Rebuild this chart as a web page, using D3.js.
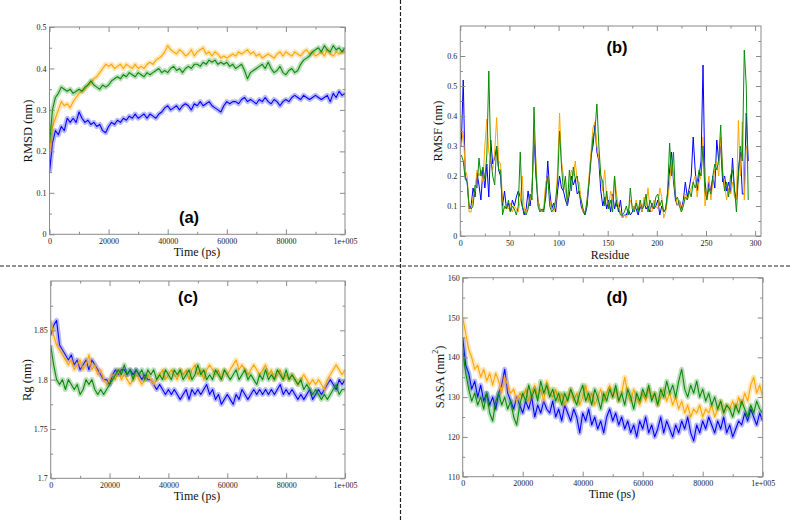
<!DOCTYPE html>
<html><head><meta charset="utf-8">
<script src="https://cdn.jsdelivr.net/npm/d3@7"></script>
<style>body{margin:0;background:#fff}svg{display:block}</style>
</head><body>
<svg id="c" width="792" height="522"></svg>
<script>
// ---------------- DATA ----------------
const time = d3.range(0, 100001, 1000);          // ps, 101 frames
const residues = d3.range(1, 294, 2);            // residue index
const seriesNames = ["blue", "orange", "green"];
const timeTickValues = [0, 20000, 40000, 60000, 80000, 100000];
const timeTickLabels = ["0", "20000", "40000", "60000", "80000", "1e+005"];

const rmsdBlue = [0.15,0.22,0.25,0.24,0.26,0.25,0.28,0.27,0.28,0.27,
 0.295,0.28,0.27,0.275,0.265,0.27,0.26,0.265,0.25,0.245,
 0.26,0.27,0.265,0.275,0.27,0.28,0.275,0.285,0.28,0.29,
 0.28,0.285,0.29,0.28,0.29,0.285,0.28,0.29,0.295,0.305,
 0.31,0.30,0.305,0.31,0.30,0.31,0.315,0.31,0.30,0.315,
 0.31,0.32,0.31,0.315,0.32,0.31,0.305,0.30,0.295,0.31,
 0.32,0.315,0.32,0.32,0.315,0.325,0.33,0.32,0.325,0.32,
 0.315,0.325,0.32,0.33,0.32,0.315,0.325,0.32,0.31,0.32,
 0.325,0.32,0.33,0.335,0.33,0.325,0.335,0.33,0.325,0.33,
 0.335,0.33,0.325,0.33,0.335,0.32,0.34,0.33,0.345,0.335,0.34];
const rmsdOrange = [0.20,0.26,0.28,0.30,0.32,0.31,0.315,0.305,0.32,0.33,
 0.34,0.345,0.35,0.36,0.365,0.375,0.38,0.39,0.40,0.41,
 0.405,0.41,0.40,0.405,0.41,0.40,0.41,0.405,0.40,0.41,
 0.40,0.405,0.40,0.41,0.415,0.41,0.42,0.425,0.43,0.44,
 0.455,0.445,0.44,0.435,0.445,0.44,0.43,0.435,0.445,0.43,
 0.44,0.445,0.45,0.435,0.44,0.43,0.44,0.435,0.425,0.43,
 0.425,0.43,0.435,0.43,0.44,0.435,0.44,0.445,0.435,0.44,
 0.43,0.435,0.425,0.43,0.435,0.43,0.425,0.435,0.44,0.43,
 0.44,0.435,0.43,0.44,0.435,0.43,0.44,0.445,0.435,0.44,
 0.43,0.435,0.44,0.43,0.445,0.435,0.43,0.44,0.435,0.44,0.44];
const rmsdGreen = [0.22,0.30,0.33,0.34,0.355,0.35,0.345,0.35,0.34,0.345,
 0.35,0.345,0.355,0.36,0.37,0.36,0.355,0.35,0.36,0.355,
 0.36,0.37,0.375,0.38,0.375,0.385,0.38,0.39,0.385,0.38,
 0.39,0.385,0.38,0.39,0.385,0.39,0.395,0.40,0.39,0.395,
 0.39,0.40,0.405,0.395,0.40,0.39,0.40,0.405,0.40,0.41,
 0.41,0.405,0.415,0.41,0.42,0.415,0.42,0.41,0.415,0.41,
 0.415,0.405,0.41,0.40,0.405,0.41,0.395,0.375,0.39,0.395,
 0.40,0.405,0.41,0.40,0.415,0.40,0.39,0.395,0.405,0.39,
 0.385,0.395,0.40,0.39,0.395,0.41,0.42,0.425,0.43,0.44,
 0.445,0.45,0.44,0.455,0.445,0.44,0.455,0.445,0.45,0.44,0.45];

const rmsfBlue = [0.30,0.52,0.20,0.18,0.09,0.10,0.16,0.13,0.21,0.17,
 0.12,0.22,0.16,0.24,0.13,0.32,0.24,0.26,0.30,0.22,
 0.20,0.10,0.15,0.09,0.11,0.08,0.12,0.10,0.13,0.15,
 0.13,0.10,0.07,0.09,0.15,0.10,0.16,0.33,0.20,0.12,
 0.09,0.08,0.09,0.13,0.25,0.15,0.09,0.11,0.08,0.15,
 0.20,0.16,0.15,0.12,0.10,0.14,0.20,0.17,0.19,0.14,
 0.15,0.10,0.08,0.07,0.10,0.18,0.27,0.30,0.37,0.28,
 0.25,0.15,0.10,0.13,0.09,0.12,0.08,0.14,0.09,0.12,
 0.08,0.12,0.06,0.07,0.07,0.09,0.07,0.08,0.10,0.09,
 0.07,0.10,0.08,0.12,0.09,0.10,0.08,0.11,0.09,0.10,
 0.12,0.07,0.10,0.08,0.09,0.14,0.22,0.28,0.18,0.12,
 0.10,0.12,0.09,0.12,0.18,0.13,0.16,0.20,0.33,0.22,
 0.15,0.20,0.25,0.57,0.18,0.13,0.18,0.15,0.20,0.16,
 0.32,0.25,0.30,0.18,0.20,0.15,0.18,0.14,0.26,0.15,
 0.12,0.22,0.28,0.14,0.14,0.41,0.25];
const rmsfOrange = [0.30,0.35,0.22,0.20,0.08,0.08,0.13,0.15,0.22,0.20,
 0.22,0.18,0.30,0.39,0.28,0.25,0.22,0.28,0.395,0.25,
 0.24,0.12,0.09,0.10,0.09,0.11,0.08,0.10,0.09,0.08,
 0.12,0.20,0.09,0.08,0.10,0.12,0.15,0.35,0.25,0.12,
 0.09,0.08,0.10,0.18,0.20,0.12,0.09,0.08,0.10,0.22,
 0.41,0.25,0.20,0.15,0.12,0.16,0.22,0.20,0.25,0.18,
 0.18,0.12,0.08,0.08,0.12,0.20,0.28,0.36,0.38,0.30,
 0.26,0.20,0.15,0.22,0.12,0.10,0.15,0.12,0.20,0.14,
 0.10,0.08,0.06,0.07,0.06,0.08,0.12,0.10,0.09,0.12,
 0.09,0.11,0.08,0.13,0.10,0.16,0.09,0.08,0.12,0.10,
 0.09,0.16,0.13,0.06,0.08,0.12,0.18,0.25,0.20,0.14,
 0.10,0.12,0.08,0.11,0.14,0.12,0.14,0.16,0.18,0.20,
 0.13,0.18,0.20,0.33,0.10,0.15,0.20,0.12,0.18,0.22,
 0.25,0.20,0.33,0.22,0.17,0.12,0.16,0.14,0.18,0.13,
 0.12,0.385,0.20,0.38,0.12,0.30,0.28];
const rmsfGreen = [0.27,0.25,0.19,0.18,0.10,0.09,0.10,0.17,0.16,0.26,
 0.20,0.23,0.19,0.27,0.55,0.26,0.20,0.17,0.30,0.22,
 0.22,0.07,0.10,0.09,0.12,0.08,0.10,0.09,0.07,0.10,
 0.28,0.10,0.08,0.07,0.09,0.14,0.12,0.43,0.22,0.10,
 0.08,0.09,0.08,0.15,0.20,0.10,0.08,0.09,0.12,0.18,
 0.35,0.23,0.15,0.20,0.10,0.22,0.15,0.23,0.19,0.20,
 0.14,0.12,0.09,0.07,0.12,0.18,0.25,0.33,0.35,0.44,
 0.30,0.20,0.18,0.10,0.15,0.09,0.12,0.08,0.20,0.10,
 0.09,0.07,0.07,0.08,0.10,0.07,0.16,0.09,0.08,0.11,
 0.08,0.12,0.09,0.10,0.14,0.08,0.12,0.10,0.09,0.13,
 0.14,0.10,0.12,0.08,0.09,0.15,0.31,0.20,0.28,0.12,
 0.13,0.10,0.08,0.10,0.13,0.12,0.15,0.13,0.18,0.16,
 0.18,0.22,0.20,0.30,0.15,0.12,0.16,0.14,0.20,0.24,
 0.22,0.25,0.37,0.20,0.15,0.18,0.13,0.20,0.22,0.16,
 0.08,0.20,0.30,0.25,0.62,0.50,0.12];

const rgBlue = [1.845,1.855,1.86,1.835,1.83,1.825,1.82,1.825,1.815,1.82,
 1.81,1.815,1.82,1.81,1.82,1.815,1.81,1.805,1.80,1.80,
 1.795,1.805,1.81,1.805,1.81,1.81,1.805,1.81,1.805,1.81,
 1.805,1.80,1.805,1.80,1.80,1.795,1.79,1.795,1.79,1.785,
 1.79,1.785,1.79,1.785,1.78,1.785,1.79,1.78,1.79,1.785,
 1.79,1.785,1.79,1.795,1.785,1.79,1.78,1.785,1.775,1.78,
 1.785,1.78,1.775,1.785,1.78,1.79,1.785,1.78,1.785,1.79,
 1.785,1.79,1.785,1.79,1.785,1.79,1.785,1.79,1.795,1.785,
 1.79,1.785,1.79,1.785,1.78,1.785,1.78,1.785,1.79,1.78,
 1.785,1.79,1.785,1.79,1.795,1.80,1.795,1.79,1.80,1.795,1.80];
const rgOrange = [1.86,1.845,1.835,1.83,1.825,1.82,1.815,1.82,1.81,1.815,
 1.82,1.81,1.815,1.825,1.81,1.815,1.805,1.81,1.80,1.795,
 1.80,1.805,1.80,1.81,1.80,1.805,1.80,1.795,1.80,1.805,
 1.80,1.795,1.80,1.805,1.80,1.795,1.80,1.805,1.81,1.80,
 1.805,1.81,1.805,1.80,1.81,1.805,1.81,1.80,1.81,1.815,
 1.805,1.81,1.80,1.81,1.815,1.81,1.805,1.81,1.80,1.81,
 1.805,1.81,1.815,1.82,1.81,1.815,1.81,1.805,1.81,1.815,
 1.81,1.805,1.81,1.815,1.805,1.81,1.80,1.805,1.81,1.80,
 1.805,1.80,1.805,1.80,1.795,1.80,1.805,1.80,1.795,1.80,
 1.795,1.80,1.795,1.79,1.80,1.805,1.81,1.815,1.81,1.805,1.81];
const rgGreen = [1.835,1.815,1.80,1.795,1.80,1.79,1.80,1.795,1.79,1.795,
 1.785,1.79,1.80,1.795,1.80,1.79,1.785,1.79,1.785,1.79,
 1.795,1.80,1.805,1.81,1.805,1.815,1.805,1.81,1.80,1.81,
 1.805,1.81,1.80,1.81,1.805,1.81,1.80,1.805,1.80,1.81,
 1.805,1.80,1.81,1.805,1.81,1.80,1.805,1.81,1.80,1.805,
 1.815,1.805,1.81,1.80,1.805,1.80,1.81,1.805,1.80,1.81,
 1.805,1.80,1.805,1.81,1.80,1.805,1.81,1.80,1.805,1.80,
 1.795,1.805,1.80,1.81,1.80,1.805,1.80,1.81,1.805,1.80,
 1.81,1.80,1.805,1.80,1.795,1.80,1.79,1.795,1.79,1.785,
 1.79,1.785,1.78,1.785,1.78,1.785,1.79,1.795,1.785,1.79,1.79];

const sasaBlue = [145,138,136,132,134,130,133,129,131,128,
 130,127,131,133,137,131,129,127,130,128,
 126,129,127,130,125,128,126,129,127,126,
 129,125,127,124,128,126,124,127,125,121,
 126,124,127,123,125,122,124,121,125,127,
 124,126,123,125,122,124,121,123,120,124,
 122,125,121,123,120,122,125,121,124,122,
 120,123,121,124,122,125,121,119,123,121,
 124,122,125,123,121,124,122,125,121,123,
 120,122,124,123,126,124,127,125,123,126,124];
const sasaOrange = [150,146,142,140,137,138,135,137,134,136,
 133,136,134,131,135,133,131,132,129,131,
 130,132,129,131,133,130,132,129,134,131,
 130,132,129,131,128,130,132,129,131,128,
 130,133,129,131,128,130,132,129,131,133,
 130,132,129,131,135,131,129,132,130,128,
 131,129,132,130,131,128,130,132,129,131,
 128,130,127,129,126,128,125,127,126,128,
 125,127,126,128,125,127,129,126,128,127,
 129,127,130,128,131,129,133,135,131,133,130];
const sasaGreen = [142,136,132,129,131,128,130,127,131,126,
 124,129,131,128,130,127,129,125,123,128,
 131,129,133,130,132,129,134,131,133,130,
 132,129,131,128,131,129,132,130,128,131,
 133,129,131,128,132,130,127,131,129,132,
 130,133,129,131,128,132,130,127,131,129,
 132,130,133,129,131,128,132,130,134,131,
 133,130,134,137,132,130,133,131,134,130,
 132,129,131,128,130,127,129,126,128,127,
 125,128,126,129,127,125,128,126,129,127,126];

// ---------------- DRAWING ----------------
const colors = {blue: "#0000ff", orange: "#ffa500", green: "#0a8a0a"};
const svg = d3.select("#c");
svg.append("rect").attr("width", 792).attr("height", 522).attr("fill", "#fff");

function panel(o) {
  const x = d3.scaleLinear().domain(o.xDomain).range(o.xRange);
  const y = d3.scaleLinear().domain(o.yDomain).range(o.yRange);
  const g = svg.append("g");
  const id = "clip" + o.tag;
  svg.append("clipPath").attr("id", id).append("rect")
    .attr("x", o.xRange[0]).attr("y", o.yRange[1])
    .attr("width", o.xRange[1] - o.xRange[0]).attr("height", o.yRange[0] - o.yRange[1]);

  // series
  const lines = g.append("g").attr("clip-path", `url(#${id})`);
  const line = d3.line().x((d, i) => x(o.xs[i])).y(d => y(d));
  o.series.forEach((s, k) => {
    const c = colors[seriesNames[k]];
    if (o.halo) {
      lines.append("path").attr("d", line(s)).attr("fill", "none")
        .attr("stroke", c).attr("stroke-width", 5).attr("stroke-opacity", 0.28)
        .attr("stroke-linejoin", "round");
    }
    lines.append("path").attr("d", line(s)).attr("fill", "none")
      .attr("stroke", c).attr("stroke-width", o.halo ? 1.1 : 1).attr("stroke-linejoin", "round");
  });

  // frame
  g.append("rect").attr("x", o.xRange[0]).attr("y", o.yRange[1])
    .attr("width", o.xRange[1] - o.xRange[0]).attr("height", o.yRange[0] - o.yRange[1])
    .attr("fill", "none").attr("stroke", "#8a8a8a").attr("stroke-width", 1);

  const style = sel => {
    sel.select(".domain").remove();
    sel.selectAll("line").attr("stroke", "#8a8a8a");
    sel.selectAll("text").attr("font-family", "'Liberation Serif', 'Times New Roman', serif")
      .attr("font-size", 8).attr("fill", "#222");
  };
  const bottom = o.yRange[0], top = o.yRange[1], left = o.xRange[0], right = o.xRange[1];
  // major + minor ticks on all four sides, pointing inward
  g.append("g").attr("transform", `translate(0,${bottom})`)
    .call(d3.axisBottom(x).tickValues(o.xTicks).tickFormat((d, i) => o.xLabels[i]).tickSize(-5).tickPadding(4)).call(style);
  g.append("g").attr("transform", `translate(0,${bottom})`)
    .call(d3.axisBottom(x).tickValues(o.xMinor).tickFormat("").tickSize(-2.5)).call(style);
  g.append("g").attr("transform", `translate(0,${top})`)
    .call(d3.axisTop(x).tickValues(o.xTicks).tickFormat("").tickSize(-5)).call(style);
  g.append("g").attr("transform", `translate(0,${top})`)
    .call(d3.axisTop(x).tickValues(o.xMinor).tickFormat("").tickSize(-2.5)).call(style);
  g.append("g").attr("transform", `translate(${left},0)`)
    .call(d3.axisLeft(y).tickValues(o.yTicks).tickFormat((d, i) => o.yLabels[i]).tickSize(-5).tickPadding(3)).call(style);
  g.append("g").attr("transform", `translate(${left},0)`)
    .call(d3.axisLeft(y).tickValues(o.yMinor).tickFormat("").tickSize(-2.5)).call(style);
  g.append("g").attr("transform", `translate(${right},0)`)
    .call(d3.axisRight(y).tickValues(o.yTicks).tickFormat("").tickSize(-5)).call(style);
  g.append("g").attr("transform", `translate(${right},0)`)
    .call(d3.axisRight(y).tickValues(o.yMinor).tickFormat("").tickSize(-2.5)).call(style);

  // titles
  const serif = "'Liberation Serif', 'Times New Roman', serif";
  g.append("text").attr("x", o.xTitlePos[0]).attr("y", o.xTitlePos[1])
    .attr("text-anchor", "middle").attr("font-family", serif).attr("font-size", 12)
    .attr("fill", "#111").text(o.xTitle);
  const yt = g.append("text").attr("transform", `translate(${o.yTitlePos[0]},${o.yTitlePos[1]}) rotate(-90)`)
    .attr("text-anchor", "middle").attr("font-family", serif).attr("font-size", 12.5).attr("fill", "#111");
  if (o.ySup) {
    yt.append("tspan").text(o.yTitle);
    yt.append("tspan").attr("dy", -6).attr("font-size", 8).text(o.ySup);
    yt.append("tspan").attr("dy", 6).text(")");
  } else yt.text(o.yTitle);
  g.append("text").attr("x", o.tagPos[0]).attr("y", o.tagPos[1]).attr("text-anchor", "middle")
    .attr("font-family", "'Liberation Sans', Arial, sans-serif").attr("font-weight", "bold")
    .attr("font-size", 16.5).attr("fill", "#000").text(`(${o.tag})`);
}

const rmsdTicks = [0, 0.1, 0.2, 0.3, 0.4, 0.5];
const rmsdLabels = ["0", "0.1", "0.2", "0.3", "0.4", "0.5"];
const rmsfTicks = [0, 0.1, 0.2, 0.3, 0.4, 0.5, 0.6];
const rmsfLabels = ["0", "0.1", "0.2", "0.3", "0.4", "0.5", "0.6"];
const resTicks = [0, 50, 100, 150, 200, 250, 300];
const resLabels = ["0", "50", "100", "150", "200", "250", "300"];
const rgTicks = [1.7, 1.75, 1.8, 1.85];
const rgLabels = ["1.7", "1.75", "1.8", "1.85"];
const sasaTicks = [110, 120, 130, 140, 150, 160];
const sasaLabels = ["110", "120", "130", "140", "150", "160"];
const timeMinor = [10000, 30000, 50000, 70000, 90000];

panel({tag: "a", xs: time, series: [rmsdBlue, rmsdOrange, rmsdGreen], halo: true,
  xDomain: [0, 100000], xRange: [49.5, 345], yDomain: [0, 0.5], yRange: [234.3, 27],
  xTicks: timeTickValues, xLabels: timeTickLabels, xMinor: timeMinor,
  yTicks: rmsdTicks, yLabels: rmsdLabels, yMinor: [0.05, 0.15, 0.25, 0.35, 0.45],
  xTitle: "Time (ps)", xTitlePos: [197, 256], yTitle: "RMSD (nm)", yTitlePos: [32, 131], tagPos: [189, 223]});

panel({tag: "b", xs: residues, series: [rmsfBlue, rmsfOrange, rmsfGreen], halo: false,
  xDomain: [0, 306], xRange: [460.3, 761], yDomain: [0, 0.7], yRange: [236, 26],
  xTicks: resTicks, xLabels: resLabels, xMinor: [25, 75, 125, 175, 225, 275],
  yTicks: rmsfTicks, yLabels: rmsfLabels, yMinor: [0.05, 0.15, 0.25, 0.35, 0.45, 0.55, 0.65],
  xTitle: "Residue", xTitlePos: [610, 259], yTitle: "RMSF (nm)", yTitlePos: [442, 131], tagPos: [617, 53]});

panel({tag: "c", xs: time, series: [rgBlue, rgOrange, rgGreen], halo: true,
  xDomain: [0, 100000], xRange: [50.7, 345], yDomain: [1.7, 1.9], yRange: [478.3, 281],
  xTicks: timeTickValues, xLabels: timeTickLabels, xMinor: timeMinor,
  yTicks: rgTicks, yLabels: rgLabels, yMinor: [1.725, 1.775, 1.825, 1.875],
  xTitle: "Time (ps)", xTitlePos: [197, 500], yTitle: "Rg (nm)", yTitlePos: [31, 380], tagPos: [188, 303]});

panel({tag: "d", xs: time, series: [sasaBlue, sasaOrange, sasaGreen], halo: true,
  xDomain: [0, 100000], xRange: [462.7, 762.7], yDomain: [110, 160], yRange: [476.7, 277.7],
  xTicks: timeTickValues, xLabels: timeTickLabels, xMinor: timeMinor,
  yTicks: sasaTicks, yLabels: sasaLabels, yMinor: [115, 125, 135, 145, 155],
  xTitle: "Time (ps)", xTitlePos: [612, 498], yTitle: "SASA (nm", ySup: "2", yTitlePos: [444, 377], tagPos: [617, 303]});

// dashed separators
svg.append("line").attr("x1", 0).attr("x2", 792).attr("y1", 266).attr("y2", 266)
  .attr("stroke", "#222").attr("stroke-width", 1.2).attr("stroke-dasharray", "4,2");
svg.append("line").attr("x1", 400.5).attr("x2", 400.5).attr("y1", 0).attr("y2", 522)
  .attr("stroke", "#222").attr("stroke-width", 1.2).attr("stroke-dasharray", "4,2");
</script>
</body></html>
